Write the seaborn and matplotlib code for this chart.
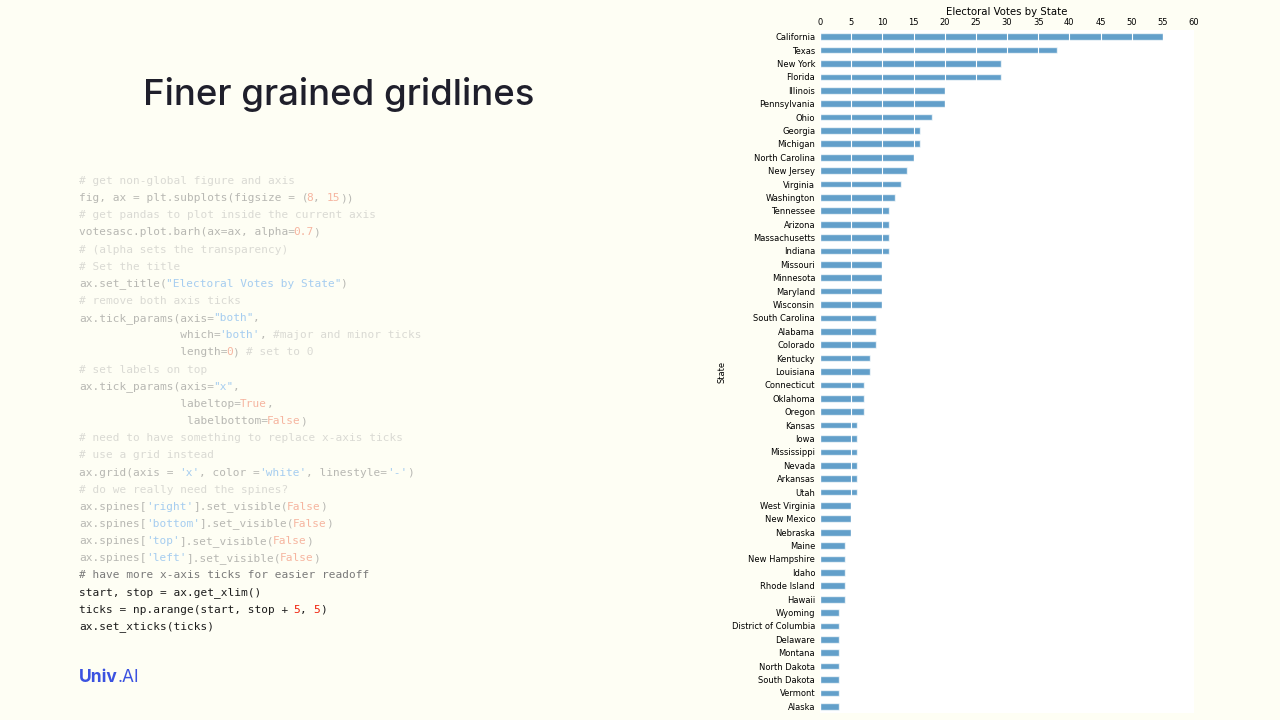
import re
import numpy as np
import matplotlib
matplotlib.use("Agg")
import matplotlib.pyplot as plt
import seaborn as sns

states = ["California", "Texas", "New York", "Florida", "Illinois", "Pennsylvania",
          "Ohio", "Georgia", "Michigan", "North Carolina", "New Jersey", "Virginia",
          "Washington", "Tennessee", "Arizona", "Massachusetts", "Indiana", "Missouri",
          "Minnesota", "Maryland", "Wisconsin", "South Carolina", "Alabama", "Colorado",
          "Kentucky", "Louisiana", "Connecticut", "Oklahoma", "Oregon", "Kansas", "Iowa",
          "Mississippi", "Nevada", "Arkansas", "Utah", "West Virginia", "New Mexico",
          "Nebraska", "Maine", "New Hampshire", "Idaho", "Rhode Island", "Hawaii",
          "Wyoming", "District of Columbia", "Delaware", "Montana", "North Dakota",
          "South Dakota", "Vermont", "Alaska"]
votes = [55, 38, 29, 29, 20, 20, 18, 16, 16, 15, 14, 13, 12, 11, 11, 11, 11, 10, 10,
         10, 10, 9, 9, 9, 8, 8, 7, 7, 7, 6, 6, 6, 6, 6, 6, 5, 5, 5, 4, 4, 4, 4, 4,
         3, 3, 3, 3, 3, 3, 3, 3]
xticks = np.arange(0, 65, 5)

code_lines = [
    "# get non-global figure and axis",
    "fig, ax = plt.subplots(figsize = (8, 15))",
    "# get pandas to plot inside the current axis",
    "votesasc.plot.barh(ax=ax, alpha=0.7)",
    "# (alpha sets the transparency)",
    "# Set the title",
    "ax.set_title(\"Electoral Votes by State\")",
    "# remove both axis ticks",
    "ax.tick_params(axis=\"both\",",
    "               which='both', #major and minor ticks",
    "               length=0) # set to 0",
    "# set labels on top",
    "ax.tick_params(axis=\"x\",",
    "               labeltop=True,",
    "                labelbottom=False)",
    "# need to have something to replace x-axis ticks",
    "# use a grid instead",
    "ax.grid(axis = 'x', color ='white', linestyle='-')",
    "# do we really need the spines?",
    "ax.spines['right'].set_visible(False)",
    "ax.spines['bottom'].set_visible(False)",
    "ax.spines['top'].set_visible(False)",
    "ax.spines['left'].set_visible(False)",
    "# have more x-axis ticks for easier readoff",
    "start, stop = ax.get_xlim()",
    "ticks = np.arange(start, stop + 5, 5)",
    "ax.set_xticks(ticks)",
]
n_faded = 23

faded = {"code": "#b8b8b3", "comment": "#dadad4", "str": "#a6cdf0", "num": "#f6b5a0"}
bright = {"code": "#1c1c1c", "comment": "#7a7a7a", "str": "#3b8ed8", "num": "#f0200a"}
token_re = re.compile(r"(#.*$)|('[^']*'|\"[^\"]*\")|(\b\d+(?:\.\d+)?\b|\bTrue\b|\bFalse\b)")

bg = "#fefef4"
W, H = 1280, 720
fig = plt.figure(figsize=(12.8, 7.2), dpi=100, facecolor=bg)

# slide title and logo
fig.text(143 / W, 1 - 95 / H, "Finer grained gridlines", fontsize=26.3,
         family=["Inter", "DejaVu Sans"], weight="medium", color="#1f1f2b", va="center")
logo = fig.text(79 / W, 1 - 677 / H, "Univ", fontsize=12.5,
                family=["Inter", "DejaVu Sans"], weight="bold", color="#3b52e0", va="center")
fig.canvas.draw()
bb = logo.get_window_extent()
fig.text(bb.x1 / W, 1 - 677 / H, ".AI", fontsize=12.5, family=["Inter", "DejaVu Sans"],
         color="#3b52e0", va="center")

# code listing
char_w = 0.602 * 8 * 100 / 72
for i, line in enumerate(code_lines):
    pal = faded if i < n_faded else bright
    y = 1 - (181 + i * 17.15) / H
    pos = 0
    segs = []
    for m in token_re.finditer(line):
        if m.start() > pos:
            segs.append((pos, line[pos:m.start()], "code"))
        kind = "comment" if m.group(1) else ("str" if m.group(2) else "num")
        segs.append((m.start(), m.group(0), kind))
        pos = m.end()
    if pos < len(line):
        segs.append((pos, line[pos:], "code"))
    for start, txt, kind in segs:
        fig.text((79 + start * char_w) / W, y, txt, fontsize=8,
                 family="DejaVu Sans Mono", color=pal[kind], va="center")

# chart
sns.set_style("white")
ax = fig.add_axes([820 / W, 7 / H, 374 / W, 683 / H])
ax.set_facecolor("white")
sns.barplot(x=votes, y=states, color="#1f77b4", alpha=0.7, saturation=1,
            width=0.5, errorbar=None, ax=ax)
ax.set_title("Electoral Votes by State", fontsize=7.3, pad=11, color="black")
ax.set_ylabel("State", fontsize=6, color="black")
ax.set_xlabel("")
ax.tick_params(axis="both", which="both", length=0, labelsize=6, labelcolor="black")
ax.tick_params(axis="x", labeltop=True, labelbottom=False, pad=2)
ax.set_xlim(0, 60)
ax.set_xticks(xticks)
ax.set_axisbelow(False)
ax.grid(axis="x", color="white", linestyle="-", linewidth=0.8)
for sp in ax.spines.values():
    sp.set_visible(False)

fig.savefig("out.png", dpi=100, facecolor=bg)
